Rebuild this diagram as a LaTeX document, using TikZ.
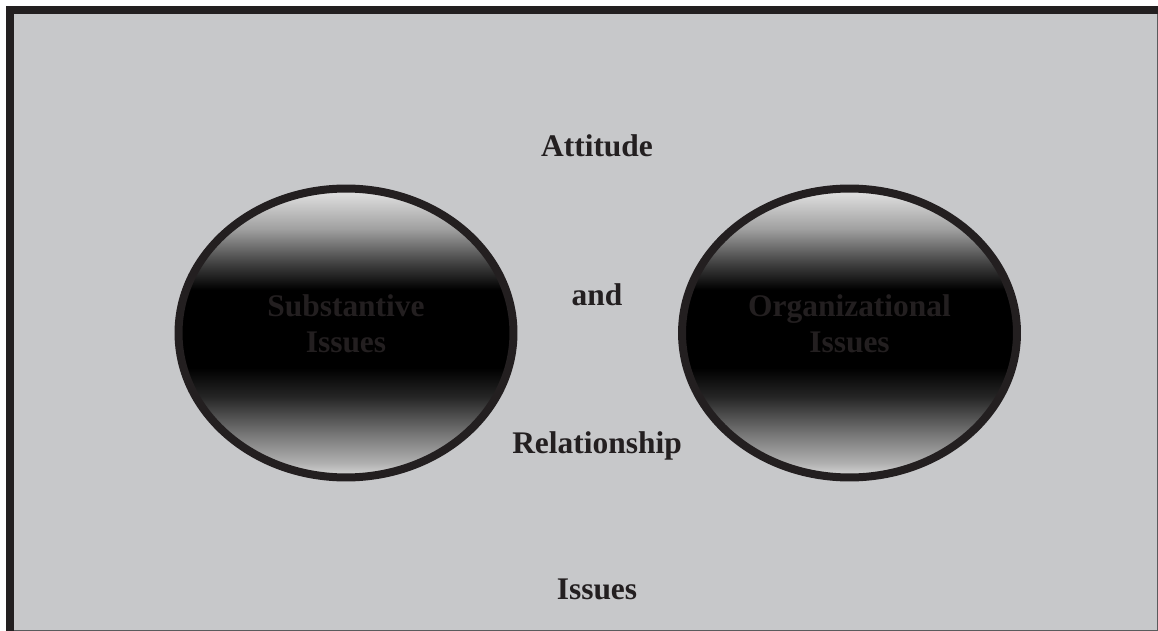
\documentclass[tikz,border=0pt]{standalone}
\usepackage{fontspec}
\setmainfont{Liberation Serif}
\usepackage{xcolor}
\usetikzlibrary{shapes.geometric}

\definecolor{inkblack}{HTML}{231F20}
\definecolor{panelgray}{HTML}{C7C8CA}
\definecolor{rimgray}{HTML}{5A5B5D}
\definecolor{orbedge}{HTML}{DCDCDC}
\definecolor{orbhigh}{HTML}{A0A0A0}
\definecolor{orbmid}{HTML}{404040}
\definecolor{orblow}{HTML}{B0B0B0}
\definecolor{orbfade}{HTML}{707070}
\definecolor{orbdusk}{HTML}{252525}
\pgfdeclareverticalshading{orbshade}{100bp}{color(0bp)=(orbedge); color(25bp)=(orbedge); color(27.5bp)=(orblow); color(33bp)=(orbfade); color(39bp)=(orbdusk); color(44bp)=(black); color(57.5bp)=(black); color(62bp)=(orbmid); color(68bp)=(orbhigh); color(74bp)=(orbedge); color(100bp)=(orbedge)}

\tikzset{
	orb/.style={ellipse, draw=inkblack, line width=4.55pt, shade, shading=orbshade, minimum width=6.7cm, minimum height=5.78cm},
	orbtext/.style={font=\bfseries\fontsize{17.9}{20.5}\selectfont, text=inkblack, align=center},
	lbl/.style={font=\bfseries\fontsize{17.9}{20.5}\selectfont, text=inkblack, anchor=base},
}

\begin{document}
\begin{tikzpicture}[x=0.02cm, y=-0.02cm]
			\useasboundingbox (0, 0) rectangle (1158, 631);
			\fill[white] (0, 0) rectangle (1158, 631);
			\fill[inkblack] (6, 6) rectangle (1158, 631);
			\fill[rimgray] (14, 14) rectangle (1158, 631);
			\fill[panelgray] (14, 14) rectangle (1157, 630);
		
			\coordinate (leftc) at (346, 333);
			\coordinate (rightc) at (849.5, 333);
		
			\node[orb] (substorb) at (leftc) {};
			\node[orbtext] (substtext) at (346, 324) {Substantive\\Issues};
			\node[orb] (orgorb) at (rightc) {};
			\node[orbtext] (orgtext) at (849.5, 324) {Organizational\\Issues};
		
			\node[lbl] (attitude) at (597, 157) {Attitude};
			\node[lbl] (and) at (597, 305) {and};
			\node[lbl] (relationship) at (597, 453) {Relationship};
			\node[lbl] (issues) at (597, 599) {Issues};
		\end{tikzpicture}
\end{document}
